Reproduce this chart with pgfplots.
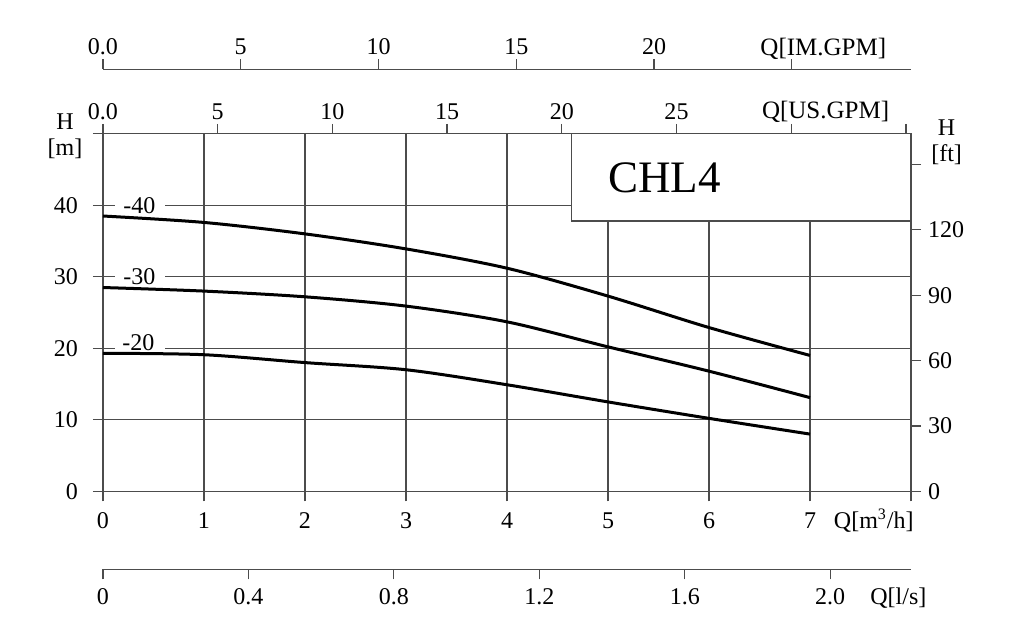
\documentclass[border=0pt]{standalone}
\usepackage{pgfplots}
\pgfplotsset{compat=1.18}
\usepackage{fontspec}
\setmainfont{Liberation Serif}
\definecolor{ax}{gray}{0.3}
\pgfplotsset{
  base/.style={scale only axis, width=404pt, xmin=0, clip=false,
    tick align=outside, major tick length=5pt,
    /pgf/number format/assume math mode=true,
    axis line style={ax, line width=0.6pt},
    tick style={ax, line width=0.6pt},
    tick label style={font=\fontsize{12}{14}\selectfont},
    font=\fontsize{12}{14}\selectfont},
  topax/.style={xticklabel style={anchor=base, yshift=2.3pt}},
}
\begin{document}
\begin{tikzpicture}
\begin{axis}[base, name=main, height=178.75pt, xmax=8, ymin=0, ymax=50,
  xtick={0,1,...,8}, xticklabels={0,1,2,3,4,5,6,7,{}},
  ytick={0,10,...,50}, yticklabels={0,10,20,30,40,{}},
  xtick pos=left, ytick pos=left,
  xticklabel style={anchor=base, yshift=-13.5pt},
  yticklabel style={xshift=-4pt},
  grid=major, grid style={ax, line width=0.6pt}]
\addplot[black, line width=1.5pt, smooth] coordinates {
 (0,38.5) (1,37.6) (2,36.0) (3,33.9) (4,31.2) (5,27.3) (6,22.9) (7,19.0)};
\addplot[black, line width=1.5pt, smooth] coordinates {
 (0,28.5) (1,28.0) (2,27.2) (3,25.9) (4,23.7) (5,20.2) (6,16.8) (7,13.1)};
\addplot[black, line width=1.5pt, smooth] coordinates {
 (0,19.3) (1,19.1) (2,18.0) (3,17.0) (4,14.9) (5,12.5) (6,10.2) (7,8.0)};
\fill[white] (axis cs:0.12,39.8) rectangle (axis cs:0.61,40.2);
\fill[white] (axis cs:0.12,29.8) rectangle (axis cs:0.61,30.2);
\fill[white] (axis cs:0.12,19.8) rectangle (axis cs:0.61,20.2);
\node[inner sep=0] at (axis cs:0.36,40) {-40};
\node[inner sep=0] at (axis cs:0.36,30) {-30};
\node[inner sep=0] at (axis cs:0.35,20.8) {-20};
\draw[ax, line width=0.6pt, fill=white] (axis cs:4.64,37.8) rectangle (axis cs:8,50);
\node[font=\fontsize{22.5}{26}\selectfont] at (axis cs:5.56,43.8) {CHL4};
\node[anchor=base east, inner sep=0] at (axis cs:8.03,-5.17) {Q[m\textsuperscript{3}/h]};
\node[anchor=base, inner sep=0] at (axis cs:-0.376,50.53) {H};
\node[anchor=base, inner sep=0] at (axis cs:-0.376,47.03) {[m]};
\node[anchor=base, inner sep=0] at (axis cs:8.353,49.83) {H};
\node[anchor=base, inner sep=0] at (axis cs:8.353,46.1) {[ft]};
\coordinate (bl) at (axis cs:-1.0198,-20.38);
\coordinate (tr) at (axis cs:9.1188,68.71);
\end{axis}
\begin{axis}[base, height=178.75pt, xmax=8, ymin=0, ymax=164.042,
  axis x line=none, axis y line*=right,
  ytick={0,30,...,150}, yticklabels={0,30,60,90,120,{}}]
\end{axis}
\begin{axis}[base, topax, at={(0,178.75pt)}, anchor=north west, height=1pt,
  ymin=0, ymax=1, xmax=35.223, axis y line=none, axis x line*=top,
  xtick={0,5,...,35}, xticklabels={0.0,5,10,15,20,25,{},{}}]
\node[anchor=base west, inner sep=0, font=\fontsize{12.5}{14}\selectfont] at (axis cs:28.71,8.4) {Q[US.GPM]};
\end{axis}
\begin{axis}[base, topax, at={(0,210.9pt)}, anchor=north west, height=1pt,
  ymin=0, ymax=1, xmax=29.329, axis y line=none, axis x line*=top,
  xtick={0,5,...,25}, xticklabels={0.0,5,10,15,20,{}}]
\node[anchor=base west, inner sep=0, font=\fontsize{12.5}{14}\selectfont] at (axis cs:23.85,8.1) {Q[IM.GPM]};
\end{axis}
\begin{axis}[base, at={(0,-39pt)}, anchor=south west, height=1pt,
  ymin=0, ymax=1, xmax=2.2222, axis y line=none, axis x line*=bottom,
  xticklabel style={anchor=base, yshift=-12.85pt},
  xtick={0,0.4,0.8,1.2,1.6,2.0}, xticklabels={0,0.4,0.8,1.2,1.6,2.0}]
\node[anchor=base east, inner sep=0] at (axis cs:2.2654,-17.85) {Q[l/s]};
\end{axis}
\pgfresetboundingbox
\useasboundingbox (bl) rectangle (tr);
\end{tikzpicture}
\end{document}
